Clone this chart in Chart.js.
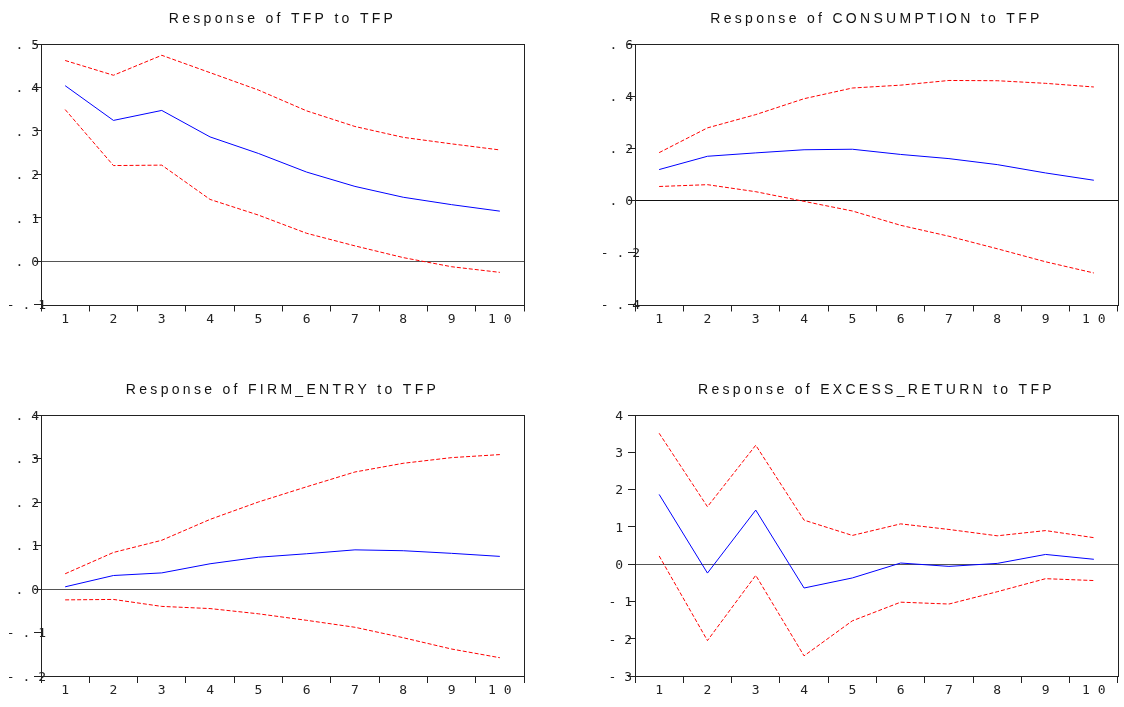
<!DOCTYPE html>
<html>
<head>
<meta charset="utf-8">
<script src="https://cdn.jsdelivr.net/npm/chart.js@4.4.1/dist/chart.umd.min.js"></script>
<style>
html, body { margin: 0; padding: 0; background: #fff; overflow: hidden; }
.panel { position: absolute; }
</style>
</head>
<body>
<div class="panel" style="left:0px;top:0px;width:565px;height:336px"><canvas id="c1"></canvas></div>
<div class="panel" style="left:560px;top:0px;width:564px;height:336px"><canvas id="c2"></canvas></div>
<div class="panel" style="left:0px;top:370px;width:565px;height:337px"><canvas id="c3"></canvas></div>
<div class="panel" style="left:560px;top:370px;width:564px;height:337px"><canvas id="c4"></canvas></div>
<script>
"use strict";

// impulse response horizon
var steps = ['1', '2', '3', '4', '5', '6', '7', '8', '9', '10'];

// Response of TFP to TFP
var tfpResp  = [0.404, 0.324, 0.347, 0.286, 0.248, 0.205, 0.172, 0.147, 0.130, 0.115];
var tfpUpper = [0.462, 0.428, 0.474, 0.434, 0.394, 0.346, 0.310, 0.285, 0.270, 0.256];
var tfpLower = [0.349, 0.220, 0.221, 0.142, 0.106, 0.064, 0.035, 0.008, -0.013, -0.026];

// Response of CONSUMPTION to TFP
var consResp  = [0.118, 0.169, 0.182, 0.194, 0.196, 0.176, 0.160, 0.137, 0.105, 0.077];
var consUpper = [0.183, 0.278, 0.329, 0.390, 0.431, 0.442, 0.460, 0.459, 0.449, 0.435];
var consLower = [0.053, 0.060, 0.033, -0.004, -0.041, -0.096, -0.138, -0.186, -0.236, -0.279];

// Response of FIRM_ENTRY to TFP
var firmResp  = [0.005, 0.031, 0.037, 0.058, 0.073, 0.081, 0.090, 0.088, 0.082, 0.075];
var firmUpper = [0.035, 0.084, 0.112, 0.160, 0.200, 0.235, 0.269, 0.289, 0.302, 0.309];
var firmLower = [-0.025, -0.024, -0.040, -0.045, -0.057, -0.072, -0.088, -0.112, -0.138, -0.158];

// Response of EXCESS_RETURN to TFP
var exretResp  = [1.87, -0.24, 1.45, -0.64, -0.37, 0.03, -0.06, 0.02, 0.26, 0.13];
var exretUpper = [3.51, 1.54, 3.19, 1.18, 0.77, 1.08, 0.93, 0.76, 0.90, 0.71];
var exretLower = [0.22, -2.05, -0.30, -2.46, -1.52, -1.02, -1.07, -0.74, -0.39, -0.44];

var BLUE = '#0000ff';
var RED = '#ff0000';
var INK = '#222222';
var MONO = '"DejaVu Sans Mono", "Liberation Mono", monospace';

function spaced(s) {
    return String(s).split('').join(' ');
}

function fmtTick(v, decimals) {
    if (Math.abs(v) < 1e-9) v = 0;
    var s = v.toFixed(decimals);
    s = s.replace('0.', '.');
    return spaced(s);
}

function makePanel(id, title, resp, upper, lower, yMin, yMax, yStep, cfg) {
    var decimals = yStep < 1 ? 1 : 0;

    var frame = {
        id: 'frame_' + id,
        beforeDatasetsDraw: function (chart) {
            var ctx = chart.ctx;
            var a = chart.chartArea;
            var y0 = Math.round(chart.scales.y.getPixelForValue(0)) + 0.5;
            ctx.save();
            ctx.strokeStyle = cfg.zeroColor;
            ctx.lineWidth = 1;
            ctx.beginPath();
            ctx.moveTo(a.left, y0);
            ctx.lineTo(a.right, y0);
            ctx.stroke();
            ctx.restore();
        },
        afterDraw: function (chart) {
            var ctx = chart.ctx;
            var a = chart.chartArea;
            var yScale = chart.scales.y;
            ctx.save();
            ctx.strokeStyle = INK;
            ctx.lineWidth = 1;
            ctx.strokeRect(Math.round(a.left) + 0.5, Math.round(a.top) + 0.5,
                Math.round(a.right - a.left), Math.round(a.bottom - a.top));

            // y tick labels: negatives sit further right, straddling the axis
            ctx.fillStyle = INK;
            ctx.font = '13px ' + MONO;
            ctx.textAlign = 'right';
            ctx.textBaseline = 'middle';
            yScale.ticks.forEach(function (t) {
                var y = yScale.getPixelForValue(t.value) + 1.5;
                var x = a.left + (t.value < -1e-9 ? cfg.negOff : cfg.posOff);
                ctx.fillText(fmtTick(t.value, decimals), x, y);
            });

            // panel title, centred over the plot area
            ctx.fillStyle = '#111111';
            ctx.font = '14px "Liberation Sans", Arial, sans-serif';
            ctx.letterSpacing = cfg.titleSpacing;
            ctx.textAlign = 'center';
            ctx.textBaseline = 'alphabetic';
            ctx.fillText(title, (a.left + a.right) / 2, cfg.titleY);
            ctx.restore();
        }
    };

    return new Chart(document.getElementById(id), {
        type: 'line',
        data: {
            labels: steps,
            datasets: [{
                label: 'response',
                data: resp,
                borderColor: BLUE,
                borderWidth: 1,
                pointRadius: 0,
                tension: 0,
                fill: false
            }, {
                label: 'upper',
                data: upper,
                borderColor: RED,
                borderWidth: 1,
                borderDash: [4, 2],
                pointRadius: 0,
                tension: 0,
                fill: false
            }, {
                label: 'lower',
                data: lower,
                borderColor: RED,
                borderWidth: 1,
                borderDash: [4, 2],
                pointRadius: 0,
                tension: 0,
                fill: false
            }]
        },
        options: {
            responsive: true,
            maintainAspectRatio: false,
            animation: false,
            layout: {
                padding: { top: cfg.top, left: 0, right: cfg.right, bottom: 0 }
            },
            plugins: {
                legend: { display: false },
                title: { display: false },
                tooltip: { enabled: false }
            },
            scales: {
                x: {
                    type: 'category',
                    offset: true,
                    border: { display: false },
                    grid: {
                        offset: true,
                        drawOnChartArea: false,
                        drawTicks: true,
                        tickLength: 7,
                        color: INK
                    },
                    ticks: {
                        color: INK,
                        font: { family: MONO, size: 13 },
                        padding: 0,
                        maxRotation: 0,
                        autoSkip: false,
                        callback: function (value, index) {
                            return spaced(steps[index]);
                        }
                    },
                    afterFit: function (scale) { scale.height = cfg.xHeight; }
                },
                y: {
                    min: yMin,
                    max: yMax,
                    border: { display: false },
                    grid: {
                        drawOnChartArea: false,
                        drawTicks: true,
                        tickLength: 7,
                        color: INK
                    },
                    ticks: {
                        stepSize: yStep,
                        display: false
                    },
                    afterFit: function (scale) { scale.width = cfg.axisWidth; }
                }
            }
        },
        plugins: [frame]
    });
}

makePanel('c1', 'Response of TFP to TFP', tfpResp, tfpUpper, tfpLower, -0.1, 0.5, 0.1,
    { top: 44, right: 41, axisWidth: 41, xHeight: 31.5, posOff: -2, negOff: 5,
      titleY: 22.5, titleSpacing: '3.3px', zeroColor: '#555555' });
makePanel('c2', 'Response of CONSUMPTION to TFP', consResp, consUpper, consLower, -0.4, 0.6, 0.2,
    { top: 44, right: 6, axisWidth: 75, xHeight: 31.5, posOff: -2, negOff: 5,
      titleY: 22.5, titleSpacing: '3.3px', zeroColor: '#111111' });
makePanel('c3', 'Response of FIRM_ENTRY to TFP', firmResp, firmUpper, firmLower, -0.2, 0.4, 0.1,
    { top: 45, right: 41, axisWidth: 41, xHeight: 31, posOff: -2, negOff: 5,
      titleY: 23.5, titleSpacing: '3.3px', zeroColor: '#555555' });
makePanel('c4', 'Response of EXCESS_RETURN to TFP', exretResp, exretUpper, exretLower, -3, 4, 1,
    { top: 45, right: 6, axisWidth: 75, xHeight: 31, posOff: -12, negOff: -3,
      titleY: 23.5, titleSpacing: '3.3px', zeroColor: '#555555' });
</script>
</body>
</html>
